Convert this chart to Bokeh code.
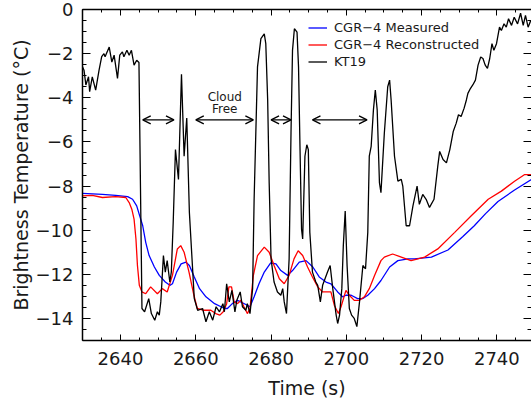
import numpy as np
from bokeh.plotting import figure
from bokeh.models import (Range1d, LinearAxis, Legend, LegendItem, Arrow, OpenHead,
                          ColumnDataSource, CustomJSTickFormatter, FixedTicker)
from bokeh.core.properties import value
from bokeh.embed import file_html
from bokeh.resources import INLINE

# ---------------- data ----------------
kt19_t = [2629.9, 2630.3, 2630.8, 2631.5, 2631.8, 2632.5, 2633.4, 2634.3, 2635.0, 2635.6,
          2635.9, 2637.0, 2637.7, 2638.3, 2639.2, 2639.8, 2640.5, 2640.9, 2641.7, 2642.3,
          2642.9, 2643.6, 2644.3, 2644.9, 2645.7, 2646.4, 2647.5, 2648.2, 2649.1, 2649.8,
          2650.3, 2650.7, 2651.4, 2651.9, 2652.4, 2653.1, 2653.5, 2654.0, 2654.6, 2655.4,
          2656.2, 2656.9, 2657.6, 2658.3, 2659.6, 2660.5, 2661.8, 2662.7, 2663.6, 2664.5,
          2665.4, 2666.3, 2667.2, 2667.6, 2668.2, 2668.9, 2669.6, 2670.4, 2670.9, 2671.8,
          2672.4, 2673.3, 2673.7, 2674.4, 2675.1, 2675.5, 2676.4, 2677.3, 2678.2, 2678.6,
          2679.1, 2679.5, 2680.0, 2680.8, 2681.7, 2682.6, 2683.1, 2683.5, 2684.1, 2684.8,
          2685.3, 2685.7, 2686.2, 2686.9, 2687.3, 2687.7, 2688.1, 2688.4, 2689.0, 2689.5,
          2689.9, 2690.3, 2691.0, 2691.9, 2692.4, 2693.1, 2693.7, 2695.0, 2695.7, 2696.4,
          2697.3, 2697.7, 2698.2, 2698.8, 2699.2, 2699.7, 2700.2, 2700.8, 2701.4, 2702.1,
          2702.8, 2703.5, 2704.4, 2705.1, 2705.7, 2706.1, 2706.6, 2707.2, 2707.7, 2708.2,
          2708.8, 2709.2, 2710.1, 2711.0, 2711.5, 2711.9, 2712.8, 2713.7, 2714.6, 2715.0,
          2715.9, 2716.8, 2717.7, 2718.8, 2719.4, 2720.3, 2721.2, 2722.1, 2723.3, 2724.3,
          2724.8, 2725.7, 2726.6, 2727.5, 2728.4, 2729.2, 2729.8, 2730.5, 2731.3, 2731.9,
          2732.3, 2733.0, 2733.6, 2734.3, 2735.0, 2735.7, 2736.3, 2736.9, 2737.5, 2738.1,
          2738.7, 2739.2, 2739.9, 2740.7, 2741.2, 2741.9, 2742.5, 2743.1, 2743.9, 2744.6,
          2745.5, 2746.3, 2747.0, 2747.6, 2748.3, 2749.0]
kt19_v = [-2.60, -2.75, -3.42, -3.05, -3.72, -3.05, -3.65, -2.75, -2.14, -2.00,
          -2.14, -1.70, -2.38, -2.07, -3.12, -2.07, -1.92, -2.14, -1.85, -2.07,
          -1.85, -2.52, -2.30, -2.40, -13.55, -13.70, -13.10, -13.78, -14.08, -13.70,
          -13.85, -13.25, -11.15, -11.90, -11.38, -12.35, -11.90, -9.65, -6.35, -7.70,
          -2.93, -6.65, -4.92, -9.20, -13.10, -13.63, -13.55, -14.15, -13.70, -14.08,
          -13.47, -13.70, -13.33, -13.70, -12.43, -13.25, -12.73, -13.70, -13.18, -12.80,
          -13.47, -13.63, -13.33, -13.78, -12.65, -8.60, -2.60, -1.32, -1.10, -1.55,
          -4.10, -7.85, -11.30, -12.35, -12.80, -12.95, -12.65, -13.25, -13.78, -11.30,
          -5.60, -1.85, -0.87, -1.03, -2.60, -6.35, -9.95, -10.40, -6.65, -6.13,
          -6.35, -10.10, -11.90, -12.35, -12.50, -13.25, -12.50, -11.90, -11.60, -12.65,
          -13.85, -14.23, -13.85, -12.65, -10.70, -9.13, -11.60, -13.55, -13.85, -14.00,
          -14.37, -13.25, -11.60, -11.75, -10.10, -6.65, -6.20, -4.55, -3.65, -4.55,
          -7.85, -8.30, -5.60, -3.50, -3.20, -4.10, -6.65, -7.78, -7.70, -8.00,
          -9.80, -9.80, -8.90, -8.00, -8.83, -8.38, -8.60, -8.97, -8.60, -7.10,
          -6.43, -6.80, -6.95, -6.35, -5.53, -5.15, -4.77, -4.85, -4.47, -4.10,
          -3.80, -3.57, -3.42, -3.20, -2.52, -2.15, -2.22, -2.52, -2.67, -2.22,
          -1.55, -1.85, -1.55, -0.80, -0.95, -0.65, -0.80, -0.42, -0.72, -0.35,
          -0.65, -0.17, -0.72, -0.27, -0.80, -0.50]

meas_t = [2629.9, 2635.2, 2638.7, 2641.9, 2643.2, 2644.3, 2645.1, 2645.9, 2646.7, 2647.6,
          2649.0, 2650.3, 2651.9, 2653.1, 2653.8, 2654.9, 2656.1, 2657.4, 2658.3, 2659.6,
          2661.0, 2662.7, 2665.0, 2666.7, 2667.6, 2668.4, 2669.7, 2671.1, 2673.3, 2674.4,
          2675.5, 2676.8, 2678.2, 2679.9, 2681.3, 2682.6, 2684.4, 2685.7, 2687.5, 2689.3,
          2691.1, 2692.8, 2694.6, 2695.9, 2697.7, 2699.0, 2699.9, 2701.3, 2703.0, 2704.4,
          2705.7, 2707.5, 2709.2, 2711.5, 2713.7, 2716.4, 2718.1, 2722.6, 2727.0, 2730.9,
          2734.0, 2737.0, 2740.3, 2744.7, 2749.2]
meas_v = [-8.33, -8.38, -8.42, -8.48, -8.60, -8.90, -9.35, -9.80, -10.55, -11.15,
          -11.67, -12.05, -12.35, -12.50, -12.43, -11.90, -11.53, -11.45, -11.60, -12.12,
          -12.65, -13.02, -13.33, -13.47, -13.55, -13.55, -13.33, -13.18, -13.37, -13.47,
          -13.02, -12.43, -11.90, -11.48, -11.53, -11.83, -12.05, -11.83, -11.45, -11.38,
          -11.67, -12.12, -12.35, -12.43, -12.80, -13.02, -12.95, -12.95, -13.10, -13.10,
          -12.95, -12.65, -12.28, -11.67, -11.38, -11.30, -11.30, -11.22, -10.90, -10.30,
          -9.80, -9.25, -8.70, -8.18, -7.70]

recon_t = [2629.9, 2632.5, 2635.2, 2638.7, 2641.4, 2642.3, 2643.0, 2643.6, 2644.1, 2644.5,
           2645.0, 2645.7, 2646.7, 2648.0, 2649.8, 2651.1, 2652.4, 2653.8, 2655.1, 2656.0,
           2656.9, 2658.2, 2659.5, 2660.4, 2662.2, 2664.0, 2665.3, 2666.4, 2667.3, 2668.2,
           2668.8, 2669.5, 2670.2, 2671.1, 2672.0, 2672.8, 2673.7, 2674.4, 2675.3, 2676.4,
           2678.2, 2679.5, 2680.8, 2682.2, 2683.5, 2684.8, 2686.1, 2687.2, 2688.4, 2689.7,
           2691.0, 2692.4, 2693.7, 2695.9, 2696.8, 2697.9, 2698.6, 2699.9, 2700.8, 2702.1,
           2703.5, 2704.8, 2706.1, 2707.5, 2709.2, 2710.1, 2712.3, 2714.6, 2717.2, 2720.8,
           2724.3, 2728.8, 2733.2, 2737.7, 2741.2, 2744.7, 2747.4, 2749.2]
recon_v = [-8.45, -8.42, -8.52, -8.48, -8.52, -8.75, -9.05, -9.50, -10.40, -11.60,
           -12.50, -12.80, -12.88, -12.57, -12.88, -12.65, -12.80, -12.05, -10.85, -10.70,
           -11.00, -11.90, -12.95, -13.55, -13.63, -13.63, -13.78, -13.85, -13.70, -13.33,
           -12.57, -12.57, -13.25, -13.33, -13.18, -13.47, -13.78, -13.55, -12.05, -11.15,
           -10.77, -11.00, -11.60, -12.20, -12.43, -12.05, -11.30, -10.93, -11.15, -11.67,
           -12.12, -12.57, -12.80, -12.80, -13.40, -13.78, -13.47, -12.73, -12.95, -13.18,
           -13.18, -13.02, -12.65, -12.05, -11.38, -11.22, -11.08, -11.22, -11.38, -11.22,
           -10.85, -10.10, -9.35, -8.60, -8.23, -7.78, -7.48, -7.48]

# cloud-free intervals (double-headed arrows) and their level
arrow_start = [2645.9, 2660.0, 2680.0, 2691.0]
arrow_end = [2654.2, 2675.3, 2685.3, 2705.5]
arrow_level = [-5.0, -5.0, -5.0, -5.0]

note_t = [2667.7, 2667.7]
note_v = [-3.95, -4.50]
note_text = ["Cloud", "Free"]

x_major = [2640, 2660, 2680, 2700, 2720, 2740]
x_minor = list(range(2630, 2751, 5))
y_major = [-14, -12, -10, -8, -6, -4, -2, 0]
y_minor = [v / 2 for v in range(-30, 1)]

FONT = "DejaVu Sans"
TXT = "#1a1a1a"

p = figure(width=531, height=401,
           x_range=Range1d(2629.9, 2749.2), y_range=Range1d(-15, 0),
           output_backend="svg", toolbar_location=None,
           x_axis_location=None, y_axis_location=None,
           min_border_left=82, min_border_right=0, min_border_top=9, min_border_bottom=59)
p.outline_line_color = None
p.background_fill_color = "white"
p.border_fill_color = "white"
p.xgrid.visible = False
p.ygrid.visible = False

minus_fmt = CustomJSTickFormatter(code="return tick < 0 ? '\\u2212' + Math.abs(tick) : tick.toString();")
empty_fmt = CustomJSTickFormatter(code="return '';")


def style(ax, major, minor, maj_len, min_len):
    ax.ticker = FixedTicker(ticks=major, minor_ticks=minor)
    ax.major_tick_in = maj_len
    ax.major_tick_out = 0
    ax.minor_tick_in = min_len
    ax.minor_tick_out = 0
    ax.axis_line_color = "black"
    ax.axis_line_width = 1.5
    ax.major_tick_line_color = "black"
    ax.minor_tick_line_color = "black"
    ax.major_tick_line_width = 1
    ax.minor_tick_line_width = 1
    ax.major_label_text_font = FONT
    ax.major_label_text_color = TXT
    ax.axis_label_text_font = FONT
    ax.axis_label_text_font_style = "normal"
    ax.axis_label_text_color = TXT


xb = LinearAxis(axis_label="Time (s)")
style(xb, x_major, x_minor, 6, 3)
xb.formatter = minus_fmt
xb.major_label_text_font_size = "18px"
xb.axis_label_text_font_size = "19px"
xb.major_label_standoff = 11
xb.axis_label_standoff = 9
p.add_layout(xb, "below")

xt = LinearAxis()
style(xt, x_major, x_minor, 6, 3)
xt.formatter = empty_fmt
xt.major_label_text_font_size = "0px"
xt.major_label_standoff = 0
p.add_layout(xt, "above")

yl = LinearAxis(axis_label="Brightness Temperature (°C)")
style(yl, y_major, y_minor, 8, 4)
yl.formatter = minus_fmt
yl.major_label_text_font_size = "18px"
yl.axis_label_text_font_size = "19px"
yl.major_label_standoff = 9
yl.axis_label_standoff = 1
p.add_layout(yl, "left")

yr = LinearAxis()
style(yr, y_major, y_minor, 8, 4)
yr.formatter = empty_fmt
yr.major_label_text_font_size = "0px"
yr.major_label_standoff = 0
yr.axis_line_alpha = 0
p.add_layout(yr, "right")

r_meas = p.line(meas_t, meas_v, line_color="#0000ff", line_width=1.3)
r_recon = p.line(recon_t, recon_v, line_color="#ff0000", line_width=1.3)
r_kt = p.line(kt19_t, kt19_v, line_color="black", line_width=1.3)

asrc = ColumnDataSource(dict(x0=arrow_start, x1=arrow_end, y=arrow_level))
p.add_layout(Arrow(start=OpenHead(size=8, line_width=1.3, line_color="black"),
                   end=OpenHead(size=8, line_width=1.3, line_color="black"),
                   x_start="x0", y_start="y", x_end="x1", y_end="y",
                   source=asrc, line_width=1.3, line_color="black"))

p.text(x=note_t, y=note_v, text=note_text, text_font=value(FONT),
       text_font_size="12px", text_align="center", text_baseline="middle",
       text_color=TXT)

legend = Legend(items=[LegendItem(label="CGR\u22124 Measured", renderers=[r_meas]),
                       LegendItem(label="CGR\u22124 Reconstructed", renderers=[r_recon]),
                       LegendItem(label="KT19", renderers=[r_kt])],
                location=(226, 270))
legend.label_text_font = FONT
legend.label_text_font_size = "13px"
legend.label_text_color = TXT
legend.glyph_width = 19
legend.glyph_height = 17
legend.label_height = 17
legend.spacing = 0
legend.padding = 0
legend.margin = 0
legend.label_standoff = 7
legend.border_line_alpha = 0
legend.background_fill_alpha = 0
p.add_layout(legend, "center")

open("out.html", "w").write(file_html(p, INLINE))
